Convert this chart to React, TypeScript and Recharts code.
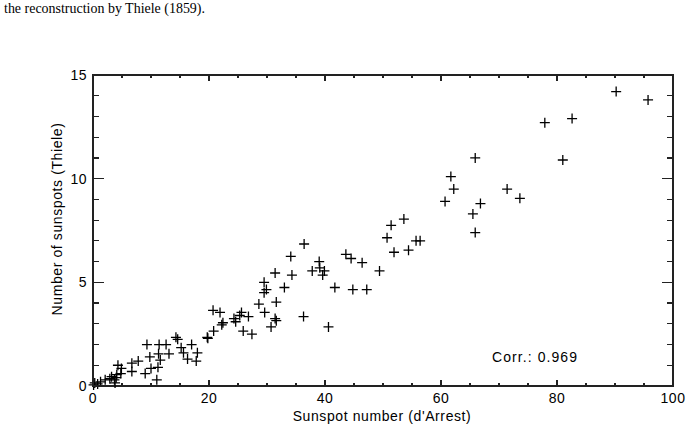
import { ScatterChart, Scatter, XAxis, YAxis, ReferenceArea } from "recharts";

// d'Arrest sunspot number vs Thiele's count
const darrest = [
  90.2, 95.7, 82.6, 77.9, 65.9, 81.0, 61.7, 62.2, 71.4, 73.6,
  66.8, 60.7, 65.5, 65.9, 53.6, 51.4, 50.7, 55.7, 56.4, 54.4,
  51.9, 36.4, 43.6, 44.5, 46.4, 49.4, 39.0, 37.8, 39.1, 39.9,
  39.6, 41.7, 44.8, 47.2, 34.1, 31.4, 34.3, 33.0, 29.5, 29.9,
  29.5, 28.6, 31.6, 29.6, 36.3, 31.4, 31.6, 30.7, 40.6, 20.7,
  21.9, 25.6, 25.3, 24.3, 26.8, 22.4, 22.2, 24.6, 25.9, 27.4,
  20.8, 19.7, 0.1, 0.3, 0.8, 1.3, 2.1, 2.9, 3.2, 3.7,
  4.0, 3.8, 4.1, 4.3, 4.9, 4.8, 6.7, 6.7, 7.8, 9.3,
  9.0, 9.8, 10.0, 11.0, 11.2, 11.4, 11.3, 11.6, 12.6, 13.1,
  14.3, 14.6, 15.2, 15.6, 16.3, 17.0, 18.0, 17.8, 19.8,
];
const thiele = [
  14.2, 13.8, 12.9, 12.7, 11.0, 10.9, 10.1, 9.5, 9.5, 9.05,
  8.8, 8.9, 8.3, 7.4, 8.05, 7.75, 7.15, 7.0, 7.0, 6.55,
  6.45, 6.85, 6.35, 6.15, 5.95, 5.55, 6.0, 5.55, 5.7, 5.55,
  5.35, 4.75, 4.65, 4.65, 6.25, 5.45, 5.35, 4.75, 5.0, 4.65,
  4.5, 3.95, 4.05, 3.55, 3.35, 3.25, 3.15, 2.85, 2.85, 3.65,
  3.55, 3.55, 3.4, 3.25, 3.35, 3.05, 2.95, 3.1, 2.65, 2.5,
  2.65, 2.35, 0.05, 0.15, 0.1, 0.2, 0.3, 0.35, 0.45, 0.3,
  0.4, 0.15, 0.55, 1.0, 0.85, 0.6, 1.1, 0.7, 1.2, 2.0,
  0.6, 1.4, 0.85, 0.3, 0.9, 2.0, 1.55, 1.25, 2.0, 1.55,
  2.35, 2.25, 1.85, 1.6, 1.3, 2.0, 1.6, 1.2, 2.3,
];

const xTicks = [0, 5, 10, 15, 20, 25, 30, 35, 40, 45, 50, 55, 60, 65, 70, 75, 80, 85, 90, 95, 100];
const yTicks = [0, 1, 2, 3, 4, 5, 6, 7, 8, 9, 10, 11, 12, 13, 14, 15];
const xMajor = [0, 20, 40, 60, 80, 100];
const yMajor = [0, 5, 10, 15];

const points = darrest.map((x, i) => ({ x, y: thiele[i] }));

const W = 691;
const H = 436;
const MARGIN = { top: 75, right: 18, bottom: 0, left: 0 };
const PLOT_TOP = MARGIN.top;
const PLOT_RIGHT = W - MARGIN.right;

const FONT = "'Liberation Sans', Arial, sans-serif";
const INK = "#000";
const FRAME = "#222";

const Plus = (props: any) => {
  const cx = Number(props.cx);
  const cy = Number(props.cy);
  return (
    <path
      d={`M${cx - 5},${cy}h10M${cx},${cy - 5}v10`}
      stroke={INK}
      strokeWidth={1.3}
      fill="none"
    />
  );
};

// IDL style: ticks point inward on all four sides, labels on majors only
const XTick = (props: any) => {
  const x = Number(props.x);
  const y = Number(props.y);
  const v = Number(props.payload.value);
  const major = xMajor.includes(v);
  const len = major ? 6 : 3;
  return (
    <g>
      <path d={`M${x},${y}v${-len}`} stroke={FRAME} strokeWidth={1.2} fill="none" shapeRendering="crispEdges" />
      <path d={`M${x},${PLOT_TOP}v${len}`} stroke={FRAME} strokeWidth={1.2} fill="none" shapeRendering="crispEdges" />
      {major && (
        <text x={x} y={y + 17} textAnchor="middle" fontFamily={FONT} fontSize={14} letterSpacing={0.5} fill={INK}>
          {v}
        </text>
      )}
    </g>
  );
};

const YTick = (props: any) => {
  const x = Number(props.x);
  const y = Number(props.y);
  const v = Number(props.payload.value);
  const major = yMajor.includes(v);
  const len = major ? 11 : 6;
  return (
    <g>
      <path d={`M${x},${y}h${len}`} stroke={FRAME} strokeWidth={1.2} fill="none" shapeRendering="crispEdges" />
      <path d={`M${PLOT_RIGHT},${y}h${-len}`} stroke={FRAME} strokeWidth={1.2} fill="none" shapeRendering="crispEdges" />
      {major && (
        <text x={x - 6} y={y + 5} textAnchor="end" fontFamily={FONT} fontSize={14} letterSpacing={0.5} fill={INK}>
          {v}
        </text>
      )}
    </g>
  );
};

export default function App() {
  return (
    <div style={{ position: "absolute", left: 0, top: 0, width: W, height: H, background: "#fff" }}>
      <ScatterChart width={W} height={H} margin={MARGIN}>
        <XAxis
          dataKey="x"
          type="number"
          domain={[0, 100]}
          ticks={xTicks}
          interval={0}
          height={50}
          tickSize={0}
          tickMargin={0}
          tickLine={false}
          axisLine={false}
          tick={XTick}
        />
        <YAxis
          dataKey="y"
          type="number"
          domain={[0, 15]}
          ticks={yTicks}
          interval={0}
          width={93}
          tickSize={0}
          tickMargin={0}
          tickLine={false}
          axisLine={false}
          tick={YTick}
        />
        <ReferenceArea
          x1={0}
          x2={100}
          y1={0}
          y2={15}
          fill="none"
          stroke={FRAME}
          strokeWidth={1.5}
          shapeRendering="crispEdges"
          ifOverflow="visible"
        />
        <Scatter data={points} shape={Plus} isAnimationActive={false} />
      </ScatterChart>
      <svg
        width={W}
        height={H}
        style={{ position: "absolute", left: 0, top: 0, pointerEvents: "none" }}
      >
        <text x={4} y={13} fontFamily="'Liberation Serif', 'DejaVu Serif', serif" fontSize={15} textLength={201} lengthAdjust="spacingAndGlyphs" fill={INK}>
          the reconstruction by Thiele (1859).
        </text>
        <text x={492} y={362} fontFamily={FONT} fontSize={14} textLength={85} fill={INK}>
          Corr.: 0.969
        </text>
        <text x={382} y={421} textAnchor="middle" fontFamily={FONT} fontSize={14} letterSpacing={0.6} fill={INK}>
          Sunspot number (d'Arrest)
        </text>
        <text
          x={62}
          y={219}
          textAnchor="middle"
          transform="rotate(-90 62 219)"
          fontFamily={FONT}
          fontSize={14}
          letterSpacing={0.6}
          fill={INK}
        >
          Number of sunspots (Thiele)
        </text>
      </svg>
    </div>
  );
}
